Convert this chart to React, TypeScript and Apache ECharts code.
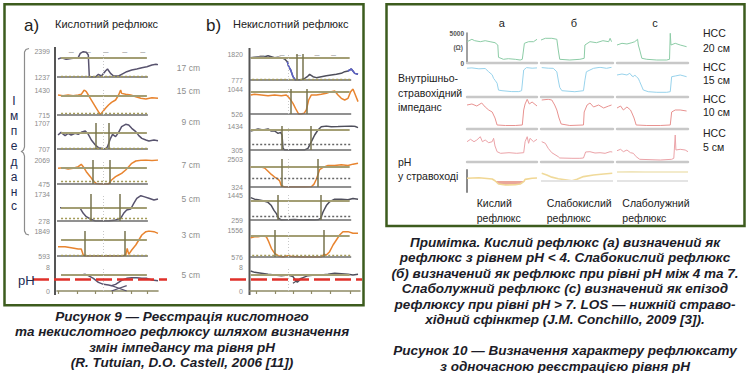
import React, { useEffect, useRef } from "react";
import * as echarts from "echarts";

// ================= Figure 9 (a) — acid reflux =================
// time axis: % of recording window; impedance in Ω; pH units
const A_SITES = ["17 cm", "15 cm", "9 cm", "7 cm", "5 cm", "3 cm", "5 cm"];
const A_RANGE = [[1237, 2399], [715, 1430], [707, 1707], [475, 2069], [278, 1734], [593, 1849], [0, 8]];
const A_THRESH = [2101, 1268, 1348, 1560, 997, 1397, 5.3];
const A_DOTTED = [1265, 763, 740, 674, 422, 610, null];
const A_BOLUS = [[], [], [38.7, 51], [35.3, 52], [33.3, 61.7], [27, 67], []];

const A_17 = [[1, 2042], [4, 2090], [6, 2071], [9, 2030], [11, 2042], [14, 2060], [16, 2071], [19, 2085], [21, 2101], [23, 2295], [26, 2369], [29, 2340], [31, 2220], [32, 1252], [34, 1237], [38, 1237], [41, 1356], [44, 1282], [48, 1505], [50, 1595], [53, 1401], [56, 1282], [61, 1282], [64, 1356], [69, 1475], [74, 1550], [79, 1595], [84, 1654], [89, 1699], [94, 1773], [98, 1803], [100, 1790]];
const A_15 = [[1, 1287], [6, 1268], [11, 1287], [16, 1268], [21, 1287], [24, 1306], [27, 1430], [29, 1382], [31, 1287], [33, 1192], [36, 1049], [39, 906], [41, 810], [43, 734], [44, 763], [48, 906], [51, 1001], [54, 1077], [58, 1144], [61, 1287], [63, 1430], [64, 1334], [68, 1306], [73, 1287], [78, 1239], [83, 1192], [88, 1172], [94, 1211], [100, 1192]];
const A_9 = [[1, 1245], [4, 1348], [8, 1220], [11, 1310], [14, 1245], [18, 1310], [21, 1271], [24, 1348], [28, 1399], [31, 1271], [34, 1053], [38, 861], [41, 758], [44, 733], [48, 707], [50, 797], [53, 1117], [55, 1271], [58, 1181], [61, 1348], [64, 1566], [68, 1656], [71, 1630], [74, 1502], [78, 1374], [81, 1220], [84, 1117], [88, 1053], [91, 1015], [96, 1053], [100, 1028]];
const A_7 = [[1, 1516], [6, 1560], [11, 1471], [16, 1516], [21, 1626], [24, 1781], [26, 1626], [29, 1294], [33, 962], [36, 674], [39, 500], [43, 475], [48, 475], [51, 480], [54, 741], [58, 962], [61, 1073], [64, 1183], [68, 1405], [71, 1626], [74, 1848], [78, 2003], [83, 2050], [88, 2069], [94, 2040], [100, 2069]];
const A_5 = [[3, 997], [8, 997], [12, null], [23, 961], [26, 692], [29, 512], [33, 386], [38, 278], [44, 278], [51, 278], [58, 332], [63, 422], [66, 692], [69, 871], [73, 925], [76, 1231], [79, 1501], [83, 1644], [86, 1591], [91, 1501], [96, 1411], [100, 1465]];
const A_3 = [[1, 1062], [8, 1062], [14, 1012], [21, 945], [24, 945], [26, 643], [28, 593], [34, 593], [41, 593], [48, 600], [58, 593], [64, 596], [68, 643], [69.5, 978], [71, 677], [74, 895], [78, 1146], [81, 1397], [84, 1648], [88, 1816], [91, 1849], [96, 1816], [100, 1732]];
const A_PH = [[4, 5.3], [18, 5.3], [24, 5.33], [28, 5.56], [31, 5.11], [36, 4.22], [41, 2.89], [46, 2.22], [51, 2.0], [54, 1.78], [58, 2.22], [61, 2.89], [64, 3.56], [69, 4.22], [74, 4.44], [79, 4.44], [84, 4.22], [89, 4.22], [94, 3.67], [100, 3.44]];
const A_PH_X1 = [[54, 1.8], [69, 0]];
const A_PH_X2 = [[54, 0], [69, 1.8]];

// ================= Figure 9 (b) — non-acid reflux =================
const B_RANGE = [[777, 1820], [526, 1044], [305, 1434], [324, 2503], [259, 1445], [576, 1556], [0, 8]];
const B_THRESH = [1673, 989, 1277, 1877, 1156, 1350, 5.5];
const B_DOTTED = [810, null, 572, 975, 441, 624, null];
const B_BOLUS = [[42.1, 48.2], [37, 51.2], [29.1, 55.2], [28.5, 61.8], [24.8, 64.2], [22.4, 67.3], []];

const B_1 = [[0.6, 1673], [4, 1690], [7.3, 1700], [10, 1695], [13.3, 1713], [16.4, 1753], [19.4, 1713], [22.4, 1673], [25.5, 1686], [28.5, 1673], [31.5, 1619], [33.9, 1512], [35.2, 1312], [37, 1178], [39.1, 911], [41.2, 777], [43.6, 777], [46.7, 790], [49.7, 844], [52.1, 911], [54.2, 1004], [57.3, 911], [60.3, 871], [64.8, 911], [69.4, 951], [73.9, 978], [78.5, 1004], [83, 1044], [86.1, 1111], [89.1, 1138], [92.1, 1218], [93.6, 1138], [95.2, 1044], [98.2, 1004]];
const B_2 = [[0.6, 920], [4.2, 934], [10.3, 920], [16.4, 906], [22.4, 920], [28.5, 906], [33, 920], [36, 851], [39.1, 747], [42.1, 609], [44.2, 526], [46.7, 526], [49.1, 540], [51.2, 609], [53.3, 816], [55.8, 920], [60.3, 920], [64.8, 934], [69.4, 954], [73.9, 989], [77, 1003], [80, 920], [83, 851], [86.1, 816], [89.1, 851], [91.5, 989], [93.6, 1044], [95.8, 920], [98.2, 782]];
const B_3 = [[0.6, 1199], [4.2, 1246], [7.3, 1293], [11.8, 1246], [16.4, 1293], [19.4, 1199], [22.4, 1199], [25.5, 1089], [27.9, 1136], [29.1, 1011], [30, 383], [31.5, 305], [37.6, 305], [43.6, 305], [49.7, 310], [52.7, 383], [55.8, 697], [58.8, 1011], [61.8, 1246], [64.8, 1403], [69.4, 1430], [73.9, 1403], [80, 1410], [86.1, 1425], [92.1, 1434], [95.2, 1420], [98.2, 1356]];
const B_4 = [[0.6, 1852], [5.8, 1852], [10.3, 1877], [13.3, 1802], [16.4, 1551], [19.4, 1301], [22.4, 1101], [24.8, 975], [27, 800], [28.5, 424], [31.5, 324], [37.6, 324], [43.6, 330], [49.7, 324], [55.8, 349], [58.2, 549], [60.3, 925], [61.8, 1301], [63.3, 1677], [66.4, 1852], [70.9, 2002], [77, 2002], [83, 2052], [89.1, 2002], [93.6, 2103], [98.2, 2178]];
const B_5 = [[0.6, 1323], [4.2, 1247], [7.3, 1217], [11.8, 1171], [16.4, 1095], [19.4, 943], [21.8, 715], [24, 563], [26.1, 335], [28.5, 259], [34.5, 265], [40.6, 280], [46.7, 262], [52.7, 270], [58.8, 259], [61.8, 265], [64.2, 335], [66.4, 639], [69.4, 943], [72.4, 1125], [77, 1247], [83, 1247], [89.1, 1217], [93.6, 1277], [98.2, 1247]];
const B_6 = [[0.6, 1278], [4.2, 1314], [7.3, 1314], [11.8, 1350], [14.8, 1314], [17, 1133], [19.4, 891], [22.4, 709], [25.5, 624], [30, 576], [34.5, 624], [39.1, 590], [46.7, 576], [52.7, 580], [58.8, 576], [64.8, 576], [67.3, 673], [69.4, 649], [72.4, 770], [75.5, 1012], [78.5, 1193], [81.5, 1375], [84.5, 1496], [89.1, 1496], [93.6, 1435], [98.2, 1435]];
const B_PH = [[0.6, 6.67], [4.2, 6.22], [10.3, 5.89], [16.4, 5.56], [22.4, 5.33], [28.5, 5.11], [34.5, 5.33], [39.1, 4.78], [41.2, 3.67], [43, 2.89], [45.2, 3.67], [48.2, 4.44], [52.7, 5.11], [58.8, 5.33], [64.8, 5.33], [70.9, 5.56], [77, 5.89], [83, 5.78], [89.1, 5.56], [93.6, 5.33], [98.2, 5.56]];
const B_PH_X = [[39, 2.6], [47, 4.4]];
// parts of the 17 cm trace drawn in blue in the source (time windows, %)
const B_1_BLUE = [[33.9, 41.2], [89.1, 98.2]];

const PH_ACID = 4;
const PH_MAX = 8;

// ================= Figure 10 — reflux types =================
const R_TYPES = ["а", "б", "с"];
const R_SITES = ["НСС", "20 см", "НСС", "15 см", "НСС", "10 см", "НСС", "5 см"];
const IMP_MAX = 5000;
// rows: НСС 20, 15, 10, 5 cm; columns: а, б, с
const R20 = [
  [[0, 3550], [7, 3950], [11, 3717], [19, 3550], [26, 3717], [33, 3550], [40, 3383], [44, 3000], [45, 950], [52, 617], [59, 717], [69, 617], [76, 500], [79, 617], [82, 3283], [88, 3550], [95, 3550], [100, 3950]],
  [[0, 3833], [6, 4117], [15, 4117], [22, 3950], [24, 2167], [26, 617], [40, 500], [54, 617], [60, 783], [61, 3000], [68, 3550], [77, 3383], [86, 3717], [94, 3550], [96, 4117], [98, 3550]],
  [[0, 3000], [7, 3283], [14, 3167], [21, 3383], [25, 3550], [29, 3950], [30, 3000], [32, 2167], [35, 783], [42, 617], [56, 500], [70, 500], [74, 617], [75, 4950], [76, 3000], [82, 3283], [89, 3000], [98, 2717]],
];
const R15 = [
  [[0, 4800], [7, 4850], [17, 4700], [26, 4750], [31, 4200], [36, 3700], [38, 3100], [40, 2800], [43, 2300], [45, 1150], [50, 1050], [64, 900], [74, 900], [78, 1050], [81, 4500], [85, 4900], [93, 4800], [100, 4850]],
  [[1, 4900], [10, 4800], [17, 4780], [22, 4200], [24, 2830], [26, 1600], [29, 1050], [47, 880], [59, 1050], [61, 2800], [63, 4200], [68, 4500], [73, 4780], [82, 4950], [91, 4780], [98, 4950]],
  [[0, 3667], [7, 3833], [14, 3667], [18, 3950], [21, 3500], [23, 3383], [25, 3667], [28, 3283], [30, 3117], [32, 2550], [37, 1167], [44, 883], [56, 783], [70, 783], [75, 883], [77, 3383], [82, 3500], [89, 3667], [98, 3383]],
];
const R10 = [
  [[0, 4000], [7, 4167], [14, 3833], [21, 4333], [26, 3667], [31, 3167], [36, 2833], [40, 1833], [43, 667], [55, 583], [69, 583], [79, 667], [81, 3167], [83, 4167], [86, 4950], [89, 4167], [93, 4500], [100, 3833]],
  [[1, 4833], [10, 4950], [15, 4833], [19, 4000], [22, 3167], [25, 1833], [28, 833], [40, 583], [59, 667], [60, 2833], [64, 4000], [68, 4333], [73, 3667], [80, 4000], [87, 3500], [94, 3833], [98, 4000]],
  [[0, 3500], [5, 3833], [9, 3167], [14, 3667], [19, 3167], [21, 2667], [24, 1833], [27, 667], [42, 583], [61, 583], [75, 667], [77, 2833], [82, 3167], [89, 3167], [98, 3000]],
];
const R5 = [
  [[0, 3383], [5, 3783], [10, 3383], [14, 3667], [19, 4217], [22, 3383], [26, 3667], [31, 3217], [36, 3383], [38, 3950], [40, 2667], [43, 1717], [48, 1450], [60, 1550], [71, 1450], [81, 1550], [83, 3383], [86, 4217], [88, 3117], [90, 3950], [95, 3383], [100, 3783]],
  [[1, 3383], [6, 3117], [10, 2283], [15, 1550], [24, 883], [26, 667], [43, 617], [54, 617], [59, 667], [62, 1667], [68, 1717], [75, 1500], [82, 1550], [89, 1450], [96, 1717], [99, 1667]],
  [[0, 1883], [5, 2117], [9, 1717], [14, 2000], [19, 1550], [23, 1450], [27, 883], [32, 450], [61, 333], [77, 450], [80, 617], [82, 4500], [83, 2000], [89, 2117], [96, 2000], [100, 1717]],
];
const R_PH = [
  [[0, 4.98], [17, 5.2], [36, 4.73], [40, 4.1], [45, 2.9], [55, 2.55], [69, 2.65], [76, 2.9], [81, 3.75], [83, 4.6], [93, 5.0], [100, 5.1]],
  [[1, 6.8], [8, 6.2], [15, 5.4], [24, 4.8], [36, 4.36], [43, 4.1], [50, 4.6], [59, 5.6], [73, 6.2], [87, 6.55], [99, 6.8]],
  [[0, 7.3], [20, 7.35], [40, 7.3], [60, 7.25], [80, 7.3], [100, 7.3]],
];
const R_BOTTOM = ["Кислий", "рефлюкс", "Слабокислий", "рефлюкс", "Слаболужний", "рефлюкс"];

const CAP9 = ["Рисунок 9 — Реєстрація кислотного", "та некислотного рефлюксу шляхом визначення", "змін імпедансу та рівня рН", "(R. Tutuian, D.O. Castell, 2006 [11])"];
const CAP10 = ["Примітка. Кислий рефлюкс (а) визначений як", "рефлюкс з рівнем рН < 4. Слабокислий рефлюкс", "(б) визначений як рефлюкс при рівні рН між 4 та 7.", "Слаболужний рефлюкс (с) визначений як епізод", "рефлюксу при рівні рН > 7. LOS — нижній страво-", "хідний сфінктер (J.M. Conchillo, 2009 [3]).", "Рисунок 10 — Визначення характеру рефлюксату", "з одночасною реєстрацією рівня рН"];

// ================= layout & styles =================
const FONT = "'Liberation Sans', Arial, sans-serif";
const OLIVE = "#a39e74";
const OLIVE_DARK = "#77734e";
const GREEN = "#3d5c1e";
const DARK_TRACE = "#58536e";
const ORANGE = "#e8842f";

const LAY_A = { left: 57, width: 101, rows: [[51, 77], [90, 115], [123, 149], [160, 184], [194, 221], [231, 256], [267, 291]], ticks: [1, 20, 38, 55, 74, 89], topTicks: [14, 31, 48.5, 67, 85], thrSpan: [4, 89], baseEnd: 90, dotStart: 4, centre: 45.5, redLeft: 33, redWidth: 134, margin: 7 };
const LAY_B = { left: 250, width: 110, rows: [[54, 80], [89, 114], [126, 150], [159, 187], [195, 220], [230, 257], [267, 291]], ticks: [6, 23, 39, 56, 73, 91], topTicks: [11, 29, 44, 61, 76], thrSpan: [0.6, 90.6], baseEnd: 92, dotStart: 2, centre: 35, redLeft: 230, redWidth: 132, margin: 7 };
const R_COLS = [[467, 70], [541, 72], [617, 71]];
const R_ROWS = [[33, 63], [67, 97], [99, 129], [132, 162]];
const R_PH_ROW = [170, 192];
const IMP_COLORS = ["#8ccca6", "#98d3ec", "#e89290", "#eba3a8"];
const PH_COLORS = ["#f1d794", "#f0da9a", "#f0e5bb"];

function buildOption() {
  const grid: any[] = [], xAxis: any[] = [], yAxis: any[] = [], series: any[] = [];
  const hidden = { splitLine: { show: false }, axisLabel: { show: false }, axisTick: { show: false }, axisLine: { show: false } };
  const add = (g: any, x: any, y: any) => {
    grid.push({ outerBoundsMode: "none", containLabel: false, show: false, ...g });
    const i = grid.length - 1;
    xAxis.push({ gridIndex: i, type: "value", ...hidden, ...x });
    yAxis.push({ gridIndex: i, type: "value", ...hidden, ...y });
    return i;
  };
  const line = (i: number, data: any[], color: string, width = 1.5, extra: any = {}) => ({
    type: "line", xAxisIndex: i, yAxisIndex: i, data, showSymbol: false, symbol: "none", silent: true,
    connectNulls: false, lineStyle: { color, width }, itemStyle: { color }, z: 3, ...extra,
  });
  const mk = (data: any[]) => ({ silent: true, symbol: ["none", "none"], label: { show: false }, animation: false, data });
  const plain = (v: number) => String(v);

  const panel = (L: any, ranges: number[][], traces: any[], colors: string[], thresh: number[], dotted: any[], dotColors: string[], bolus: number[][], crosses: any[]) => {
    const idx: number[] = [];
    L.rows.forEach(([top, bottom]: number[], k: number) => {
      const [lo, hi] = ranges[k];
      const isPH = k === L.rows.length - 1;
      const xCfg: any = k === 0
        ? { min: 0, max: 100, position: "top", axisLabel: { show: true, customValues: L.topTicks, formatter: () => "–", color: "#a0a0a0", fontSize: 9, margin: -5, fontFamily: FONT } }
        : { min: 0, max: 100, axisLine: { show: isPH, onZero: false, lineStyle: { color: "#8f8a66", width: 1.6 } }, axisTick: { show: isPH, customValues: L.ticks, length: 3, lineStyle: { color: "#8f8a66", width: 1.2 } } };
      const i = add(
        { left: L.left, width: L.width, top, height: bottom - top },
        xCfg,
        { min: lo, max: hi, axisLabel: { show: true, customValues: [lo, hi], formatter: plain, fontSize: 7, color: "#8c8c8c", margin: L.margin, fontFamily: FONT } }
      );
      idx.push(i);
      const ml: any[] = [];
      ml.push([{ coord: [L.thrSpan[0], thresh[k]], lineStyle: { color: OLIVE, width: 1.8, type: "solid" } }, { coord: [L.thrSpan[1], thresh[k]] }]);
      if (!isPH) ml.push([{ coord: [0, lo], lineStyle: { color: "#6d6d6d", width: 1.6, type: "solid" } }, { coord: [L.baseEnd, lo] }]);
      const d = dotted[k];
      if (d != null) ml.push([{ coord: [L.dotStart, d], lineStyle: { color: dotColors[k], width: 1.4, type: [2, 2] } }, { coord: [L.baseEnd, d] }]);
      bolus[k].forEach((t) => ml.push({ xAxis: t, lineStyle: { color: OLIVE_DARK, width: 1.5, type: "solid" } }));
      ml.push({ xAxis: L.centre, lineStyle: { color: "#c8c8c8", width: 1, type: [1, 2] } });
      series.push(line(i, traces[k], colors[k], 1.5, { markLine: mk(ml) }));
      if (isPH) crosses.forEach((c) => series.push(line(i, c, colors[k], 1.3)));
    });
    const [top, bottom] = L.rows[L.rows.length - 1];
    const j = add({ left: L.redLeft, width: L.redWidth, top, height: bottom - top }, { min: 0, max: 1 }, { min: 0, max: PH_MAX });
    series.push({ type: "line", xAxisIndex: j, yAxisIndex: j, data: [], silent: true, markLine: mk([{ yAxis: PH_ACID, lineStyle: { color: "#e0312a", width: 2.6, type: [16, 5] } }]) });
    return idx;
  };

  panel(LAY_A, A_RANGE, [A_17, A_15, A_9, A_7, A_5, A_3, A_PH],
    [DARK_TRACE, ORANGE, DARK_TRACE, ORANGE, DARK_TRACE, ORANGE, DARK_TRACE],
    A_THRESH, A_DOTTED, Array(7).fill("#a49b58"), A_BOLUS, [A_PH_X1, A_PH_X2]);
  const bIdx = panel(LAY_B, B_RANGE, [B_1, B_2, B_3, B_4, B_5, B_6, B_PH],
    ["#4f4f5c", ORANGE, "#4f4f5c", ORANGE, "#4f4f5c", ORANGE, "#4f4f5c"],
    B_THRESH, B_DOTTED, ["#a49b58", "#666", "#666", "#666", "#666", "#a49b58", "#666"], B_BOLUS, [B_PH_X]);
  B_1_BLUE.forEach(([s, e]) => series.push(line(bIdx[0], B_1.filter(([t]) => t >= s && t <= e), "#5c62c8", 1.5, { z: 4 })));

  const IMP = [R20, R15, R10, R5];
  R_COLS.forEach(([left, width], c) => {
    R_ROWS.forEach(([top, bottom], r) => {
      const first = c === 0 && r === 0;
      const i = add(
        { left, width, top, height: bottom - top },
        { min: 0, max: 100, axisLine: { show: true, onZero: false, lineStyle: { color: "#c8c8c8", width: 2.4 } } },
        {
          min: 0, max: IMP_MAX,
          axisLine: { show: first, lineStyle: { color: "#8a8a8a", width: 1.6 } },
          axisLabel: { show: first, customValues: [0, IMP_MAX], formatter: plain, fontSize: 6.5, fontWeight: "bold", color: "#555", margin: 3, fontFamily: FONT },
        }
      );
      series.push(line(i, IMP[r][c], IMP_COLORS[r], 1.0));
    });
    const [top, bottom] = R_PH_ROW;
    const i = add({ left, width, top, height: bottom - top }, { min: 0, max: 100 },
      { min: 0, max: PH_MAX, offset: 4, axisLine: { show: c === 0, lineStyle: { color: "#8a8a8a", width: 2 } } });
    const d = R_PH[c];
    series.push(line(i, d.map(([t, v]) => [t, Math.min(v, PH_ACID)]), "rgba(0,0,0,0)", 0,
      { areaStyle: { origin: PH_ACID, color: "#e9a194", opacity: 0.95 }, lineStyle: { width: 0, opacity: 0 }, z: 2 }));
    series.push(line(i, d, PH_COLORS[c], 1.6, c > 0 ? { markLine: mk([{ yAxis: PH_ACID, lineStyle: { color: "#e4e4e4", width: 2, type: "solid" } }]) } : {}));
  });

  // ---------- graphic texts & frames ----------
  const txt = (text: string, x: number, y: number, o: any = {}) => ({
    type: "text", x, y, silent: true, z: 10,
    style: { text, fill: "#222", fontSize: 11, fontFamily: FONT, align: "left", verticalAlign: "middle", textAlign: "left", textVerticalAlign: "middle", ...o },
  });
  const g: any[] = [];
  g.push({ type: "rect", shape: { x: 4.5, y: 4.3, width: 359, height: 301 }, style: { fill: "none", stroke: GREEN, lineWidth: 2.5 }, silent: true });
  g.push({ type: "rect", shape: { x: 386.5, y: 4.3, width: 358, height: 221.7 }, style: { fill: "none", stroke: GREEN, lineWidth: 2.5 }, silent: true });
  g.push({ type: "line", shape: { x1: 55, y1: 47, x2: 55, y2: 295 }, style: { stroke: "#555", lineWidth: 2 }, silent: true });
  g.push({ type: "line", shape: { x1: 249.5, y1: 48, x2: 249.5, y2: 295 }, style: { stroke: "#555", lineWidth: 2 }, silent: true });
  g.push({ type: "polyline", shape: { points: [[29, 48.5], [26, 49.5], [24.5, 52], [24.5, 147], [23.5, 150], [21.5, 151.5], [23.5, 153], [24.5, 156], [24.5, 231], [26, 234], [29, 235]] }, style: { stroke: "#8c8c8c", lineWidth: 1.2, fill: "none" }, silent: true });

  g.push(txt("a)", 24, 25.5, { fontSize: 17 }));
  g.push(txt("Кислотний рефлюкс", 55, 24, { fontSize: 11 }));
  g.push(txt("b)", 206, 25.5, { fontSize: 17 }));
  g.push(txt("Некислотний рефлюкс", 233, 24, { fontSize: 11 }));
  const siteY = [68, 91, 122, 165, 199, 235, 275];
  A_SITES.forEach((s, k) => g.push(txt(s, 200, siteY[k], { fontSize: 8.5, fill: "#8e8e8e", align: "right", textAlign: "right" })));
  const impY = [101, 116, 131, 146, 162, 177, 192, 206];
  "Імпеданс".split("").forEach((ch, k) => g.push(txt(ch, 14, impY[k], { fontSize: 12, fill: "#1c2a52", align: "center", textAlign: "center" })));
  g.push(txt("pH", 18, 280, { fontSize: 13, fill: "#1c2a52" }));

  const colX = [501.7, 574, 655];
  R_TYPES.forEach((t, c) => g.push(txt(t, colX[c], 22.5, { fontSize: 11, align: "center", textAlign: "center" })));
  g.push(txt("(Ω)", 463, 47.5, { fontSize: 6.5, fontWeight: "bold", fill: "#555", align: "right", textAlign: "right" }));
  const siteY10 = [33, 48, 66.5, 80, 98.5, 112, 132.5, 146.7];
  R_SITES.forEach((s, k) => g.push(txt(s, 703, siteY10[k], { fontSize: 10.5 })));
  g.push(txt("Внутрішньо-", 398, 78, { fontSize: 10.5 }));
  g.push(txt("стравохідний", 398, 92.5, { fontSize: 10.5 }));
  g.push(txt("імпеданс", 398, 107, { fontSize: 10.5 }));
  g.push(txt("pH", 398, 162.3, { fontSize: 10.5 }));
  g.push(txt("у стравоході", 398, 176, { fontSize: 10.5 }));
  const botX = [476.7, 546.7, 622.3];
  R_BOTTOM.forEach((s, k) => g.push(txt(s, botX[Math.floor(k / 2)], k % 2 ? 217.5 : 202.7, { fontSize: 10.5 })));

  const capStyle = { fontSize: 13.5, fontWeight: "bold", fontStyle: "italic", fill: "#1c1c28", align: "center", textAlign: "center" };
  const cap9Y = [316, 331.5, 347, 362];
  CAP9.forEach((s, k) => g.push(txt(s, 182, cap9Y[k], capStyle)));
  const cap10Y = [242, 257.5, 273, 288.5, 304, 319, 350, 366];
  CAP10.forEach((s, k) => g.push(txt(s, 565, cap10Y[k], capStyle)));

  return { animation: false, backgroundColor: "#ffffff", grid, xAxis, yAxis, series, graphic: g };
}

export default function App() {
  const ref = useRef<HTMLDivElement>(null);
  useEffect(() => {
    const chart = echarts.init(ref.current!, null, { renderer: "svg" });
    chart.setOption(buildOption() as any);
    return () => chart.dispose();
  }, []);
  return <div ref={ref} style={{ position: "absolute", left: 0, top: 0, width: 749, height: 373, background: "#fff" }} />;
}
